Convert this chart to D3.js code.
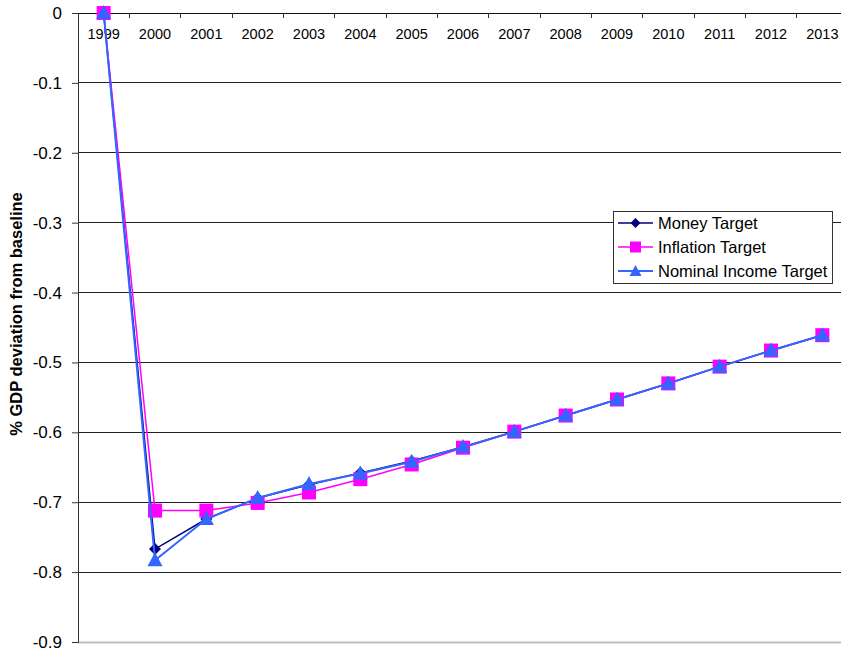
<!DOCTYPE html>
<html>
<head>
<meta charset="utf-8">
<script src="https://cdn.jsdelivr.net/npm/d3@7"></script>
<style>
  html, body { margin: 0; padding: 0; background: #fff; }
  svg { display: block; font-family: "Liberation Sans", Arial, sans-serif; }
</style>
</head>
<body>
<svg id="chart" width="841" height="655"></svg>
<script>
const years = ["1999","2000","2001","2002","2003","2004","2005","2006","2007","2008","2009","2010","2011","2012","2013"];
const moneyTarget = [0, -0.767, -0.724, -0.694, -0.675, -0.658, -0.641, -0.621, -0.599, -0.576, -0.553, -0.530, -0.506, -0.483, -0.461];
const inflationTarget = [0, -0.712, -0.712, -0.701, -0.686, -0.667, -0.646, -0.622, -0.599, -0.576, -0.553, -0.530, -0.506, -0.483, -0.461];
const nominalIncomeTarget = [0, -0.783, -0.724, -0.694, -0.674, -0.659, -0.642, -0.621, -0.599, -0.576, -0.553, -0.530, -0.506, -0.483, -0.461];
const yTicks = [0, -0.1, -0.2, -0.3, -0.4, -0.5, -0.6, -0.7, -0.8, -0.9];
const seriesNames = ["Money Target", "Inflation Target", "Nominal Income Target"];

const series = [
  { name: seriesNames[0], values: moneyTarget, color: "#000080", width: 1.5, shape: "diamond" },
  { name: seriesNames[1], values: inflationTarget, color: "#ff00ff", width: 1.5, shape: "square" },
  { name: seriesNames[2], values: nominalIncomeTarget, color: "#3366ff", width: 2, shape: "triangle" }
];

const svg = d3.select("#chart");
const plotLeft = 78, plotRight = 848, plotTop = 13, plotBottom = 642;

const x = d3.scaleBand().domain(years).range([plotLeft, plotRight]).padding(0);
const cx = d => x(d) + x.bandwidth() / 2;
const y = d3.scaleLinear().domain([-0.9, 0]).range([plotBottom, plotTop]);

// gridlines
svg.append("g").selectAll("line").data(yTicks.filter(t => t !== 0 && t !== -0.9)).join("line")
  .attr("x1", plotLeft).attr("x2", 841)
  .attr("y1", d => y(d)).attr("y2", d => y(d))
  .attr("stroke", "#222").attr("stroke-width", 1).attr("shape-rendering", "crispEdges");

// bottom border
svg.append("line").attr("x1", plotLeft).attr("x2", 841).attr("y1", plotBottom + 0.5).attr("y2", plotBottom + 0.5)
  .attr("stroke", "#c0c0c0").attr("stroke-width", 2);

// y axis
const yAxis = d3.axisLeft(y).tickValues(yTicks).tickSize(6).tickPadding(10)
  .tickFormat(d => d === 0 ? "0" : d3.format(".1f")(d).replace("−", "-"));
const gy = svg.append("g").attr("transform", `translate(${plotLeft},0)`).call(yAxis);
gy.select(".domain").attr("stroke", "#333");
gy.selectAll(".tick line").attr("stroke", "#333");
gy.selectAll(".tick text").attr("font-size", 17).attr("fill", "#000")
  .attr("font-family", "'Liberation Sans', Arial, sans-serif");

// x axis at y=0 line
svg.append("line").attr("x1", plotLeft).attr("x2", 841).attr("y1", y(0)).attr("y2", y(0))
  .attr("stroke", "#111").attr("stroke-width", 1).attr("shape-rendering", "crispEdges");
svg.append("g").selectAll("line").data(years.slice(1)).join("line")
  .attr("x1", d => x(d)).attr("x2", d => x(d))
  .attr("y1", y(0)).attr("y2", y(0) + 5)
  .attr("stroke", "#333").attr("shape-rendering", "crispEdges");
svg.append("g").selectAll("text").data(years).join("text")
  .attr("x", d => cx(d)).attr("y", y(0) + 26)
  .attr("text-anchor", "middle").attr("font-size", 14.5).attr("fill", "#000")
  .text(d => d);

// y label
svg.append("text")
  .attr("transform", `translate(22,${314}) rotate(-90)`)
  .attr("text-anchor", "middle").attr("font-size", 16.5).attr("font-weight", "bold")
  .text("% GDP deviation from baseline");

function marker(sel, shape, color) {
  if (shape === "diamond") {
    sel.append("path").attr("d", "M0,-6L6,0L0,6L-6,0Z").attr("fill", color);
  } else if (shape === "square") {
    sel.append("rect").attr("x", -7).attr("y", -7).attr("width", 14).attr("height", 14).attr("fill", color);
  } else {
    sel.append("path").attr("d", "M0,-8L7.5,6L-7.5,6Z").attr("fill", color);
  }
}

const line = d3.line().x((d, i) => cx(years[i])).y(d => y(d));

series.forEach(s => {
  const g = svg.append("g");
  g.append("path").attr("d", line(s.values)).attr("fill", "none")
    .attr("stroke", s.color).attr("stroke-width", s.width);
  s.values.forEach((v, i) => {
    const m = g.append("g").attr("transform", `translate(${cx(years[i])},${y(v)})`);
    marker(m, s.shape, s.color);
  });
});

// legend
const lg = svg.append("g");
lg.append("rect").attr("x", 613.5).attr("y", 211.5).attr("width", 219).attr("height", 72)
  .attr("fill", "#fff").attr("stroke", "#333").attr("stroke-width", 1);
series.forEach((s, i) => {
  const ly = 223 + i * 24;
  lg.append("line").attr("x1", 618).attr("x2", 653).attr("y1", ly).attr("y2", ly)
    .attr("stroke", s.color).attr("stroke-width", s.width);
  const m = lg.append("g").attr("transform", `translate(635.5,${ly})`);
  if (s.shape === "diamond") m.append("path").attr("d", "M0,-5L5,0L0,5L-5,0Z").attr("fill", s.color);
  else if (s.shape === "square") m.append("rect").attr("x", -5.5).attr("y", -5.5).attr("width", 11).attr("height", 11).attr("fill", s.color);
  else m.append("path").attr("d", "M0,-6L6,5L-6,5Z").attr("fill", s.color);
  lg.append("text").attr("x", 658).attr("y", ly + 6).attr("font-size", 16.5).attr("fill", "#000").text(s.name);
});
</script>
</body>
</html>
